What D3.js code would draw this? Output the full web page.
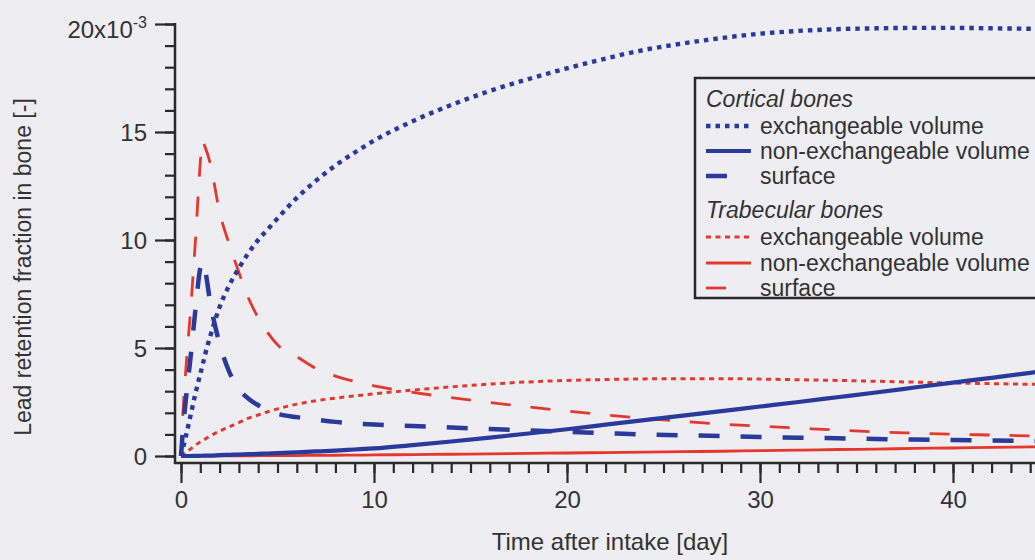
<!DOCTYPE html>
<html>
<head>
<meta charset="utf-8">
<script src="https://cdn.jsdelivr.net/npm/d3@7/dist/d3.min.js"></script>
<style>
  html, body { margin: 0; padding: 0; background: #ededf2; }
  svg { display: block; font-family: "Liberation Sans", Arial, sans-serif; }
</style>
</head>
<body>
<svg id="chart" width="1035" height="560"></svg>
<script>
// Time after intake, days
const days = [0, 0.1, 0.25, 0.5, 0.75, 1, 1.1, 1.25, 1.5, 2, 2.5, 3, 3.5, 4, 4.5, 5, 6, 7, 8, 9, 10,
  12, 14, 16, 18, 20, 22, 24, 26, 28, 30, 32, 34, 36, 38, 40, 42, 44, 46, 48, 50];

// Retention fractions (x10^-3)
const cortExch = [0, 0.35, 0.9, 1.9, 2.9, 3.8, 4.15, 4.7, 5.5, 6.9, 7.9, 8.7, 9.4, 10.0, 10.5, 11.0, 11.95, 12.75, 13.45, 14.05, 14.6,
  15.5, 16.25, 16.9, 17.45, 17.95, 18.4, 18.8, 19.1, 19.35, 19.55, 19.68, 19.76, 19.8, 19.82, 19.82, 19.8, 19.78, 19.76, 19.74, 19.72];
const cortNonExch = [0, 0, 0, 0, 0.005, 0.01, 0.012, 0.015, 0.02, 0.04, 0.055, 0.07, 0.085, 0.1, 0.115, 0.13, 0.17, 0.21, 0.25, 0.3, 0.35,
  0.5, 0.67, 0.85, 1.04, 1.24, 1.45, 1.66, 1.87, 2.08, 2.29, 2.5, 2.72, 2.94, 3.17, 3.4, 3.62, 3.85, 4.08, 4.3, 4.5];
const cortSurf = [0, 1.2, 2.6, 4.6, 6.8, 8.7, 9.0, 8.6, 7.2, 5.2, 3.9, 3.1, 2.65, 2.35, 2.1, 1.95, 1.8, 1.68, 1.58, 1.51, 1.46,
  1.39, 1.32, 1.25, 1.18, 1.12, 1.06, 1.0, 0.96, 0.92, 0.88, 0.85, 0.82, 0.79, 0.76, 0.74, 0.72, 0.7, 0.68, 0.66, 0.64];
const trabExch = [0, 0.07, 0.17, 0.33, 0.5, 0.65, 0.7, 0.78, 0.92, 1.15, 1.35, 1.55, 1.75, 1.9, 2.05, 2.18, 2.4, 2.56, 2.68, 2.78, 2.88,
  3.05, 3.2, 3.33, 3.43, 3.5, 3.54, 3.57, 3.58, 3.58, 3.56, 3.53, 3.5, 3.46, 3.42, 3.38, 3.35, 3.32, 3.29, 3.26, 3.23];
const trabNonExch = [0, 0, 0, 0, 0, 0.002, 0.002, 0.003, 0.004, 0.005, 0.007, 0.009, 0.011, 0.013, 0.015, 0.017, 0.022, 0.028, 0.034, 0.04, 0.05,
  0.065, 0.08, 0.1, 0.12, 0.14, 0.16, 0.18, 0.2, 0.22, 0.25, 0.27, 0.3, 0.32, 0.35, 0.37, 0.4, 0.42, 0.44, 0.47, 0.49];
const trabSurf = [0, 2.0, 4.0, 6.8, 10.0, 13.6, 14.6, 14.3, 13.6, 11.3, 9.8, 8.5, 7.3, 6.4, 5.7, 5.15, 4.6, 4.05, 3.7, 3.45, 3.25,
  2.95, 2.7, 2.48, 2.27, 2.08, 1.9, 1.74, 1.6, 1.48, 1.38, 1.29, 1.2, 1.12, 1.06, 1.01, 0.97, 0.93, 0.9, 0.87, 0.84];

const xMajorTicks = [0, 10, 20, 30, 40];
const yMajorTicks = [0, 5, 10, 15, 20];
const yTickLabels = ["0", "5", "10", "15", "20x10"];
const yExponent = "-3";

const xTitle = "Time after intake [day]";
const yTitle = "Lead retention fraction in bone [-]";
const groupTitles = ["Cortical bones", "Trabecular bones"];
const seriesLabels = ["exchangeable volume", "non-exchangeable volume", "surface"];

const BLUE = "#2a3a9a";
const RED = "#e5382c";
const INK = "#2a2a2a";
const TEXT = "#333333";

const svg = d3.select("#chart");

const x = d3.scaleLinear().domain([0, 50]).range([181, 1146]);
const y = d3.scaleLinear().domain([0, 20]).range([456, 24]);

// ---- axes (offset from the data origin) ----
const xAxisY = 463, yAxisX = 175;

const xMajor = d3.axisBottom(x).tickValues(xMajorTicks).tickSize(20).tickFormat(d3.format("d"));
const xMinor = d3.axisBottom(x).tickValues(d3.range(0, 51, 1)).tickSize(10).tickFormat("");

const gxMinor = svg.append("g").attr("transform", `translate(0,${xAxisY})`).call(xMinor);
const gx = svg.append("g").attr("transform", `translate(0,${xAxisY})`).call(xMajor);
[gx, gxMinor].forEach(g => {
  g.select(".domain").remove();
  g.selectAll(".tick line").attr("stroke", INK).attr("stroke-width", 2.2);
});
gx.selectAll(".tick text")
  .attr("y", 28).attr("dy", "0.71em")
  .attr("fill", TEXT).style("font-size", "24px");
svg.append("line")
  .attr("x1", yAxisX - 1).attr("x2", 1040)
  .attr("y1", xAxisY).attr("y2", xAxisY)
  .attr("stroke", INK).attr("stroke-width", 2.5);

const yMajor = d3.axisLeft(y).tickValues(yMajorTicks).tickSize(20)
  .tickFormat((d, i) => yTickLabels[i]);
const yMinor = d3.axisLeft(y).tickValues(d3.range(0, 21, 1)).tickSize(10).tickFormat("");

const gyMinor = svg.append("g").attr("transform", `translate(${yAxisX},0)`).call(yMinor);
const gy = svg.append("g").attr("transform", `translate(${yAxisX},0)`).call(yMajor);
[gy, gyMinor].forEach(g => {
  g.select(".domain").remove();
  g.selectAll(".tick line").attr("stroke", INK).attr("stroke-width", 2.2);
});
gy.selectAll(".tick text")
  .attr("x", -28).attr("dy", "0.35em")
  .attr("fill", TEXT).style("font-size", "24px");
// exponent on the top label
gy.selectAll(".tick text").filter(d => d === 20)
  .attr("dy", "0.55em")
  .append("tspan")
  .attr("dy", "-0.6em")
  .style("font-size", "16px")
  .text(yExponent);
svg.append("line")
  .attr("x1", yAxisX).attr("x2", yAxisX)
  .attr("y1", y(20) - 1).attr("y2", xAxisY + 1)
  .attr("stroke", INK).attr("stroke-width", 2.5);

// axis titles
svg.append("text")
  .attr("x", 610).attr("y", 550)
  .attr("text-anchor", "middle")
  .attr("fill", TEXT).style("font-size", "24px")
  .text(xTitle);
svg.append("text")
  .attr("transform", "translate(31,267) rotate(-90)")
  .attr("text-anchor", "middle")
  .attr("fill", TEXT).style("font-size", "23px")
  .text(yTitle);

// ---- series ----
const series = [
  { group: 0, label: 0, values: cortExch,    color: BLUE, width: 4.4, dash: "4.5,5",  sample: 45 },
  { group: 0, label: 1, values: cortNonExch, color: BLUE, width: 4.2, dash: null,     sample: 45 },
  { group: 0, label: 2, values: cortSurf,    color: BLUE, width: 4.5, dash: "21,21",  sample: 25 },
  { group: 1, label: 0, values: trabExch,    color: RED,  width: 3,   dash: "5,4.5",  sample: 45 },
  { group: 1, label: 1, values: trabNonExch, color: RED,  width: 2.8, dash: null,     sample: 45 },
  { group: 1, label: 2, values: trabSurf,    color: RED,  width: 2.8, dash: "20,20",  sample: 25 }
];

const line = d3.line()
  .x((d, i) => x(days[i]))
  .y(d => y(d))
  .curve(d3.curveMonotoneX);

const plot = svg.append("g");
// draw red first so the heavier blue lines sit on top where they overlap
[3, 4, 5, 0, 1, 2].forEach(k => {
  const s = series[k];
  plot.append("path")
    .datum(s.values)
    .attr("d", line)
    .attr("fill", "none")
    .attr("stroke", s.color)
    .attr("stroke-width", s.width)
    .attr("stroke-dasharray", s.dash)
    .attr("stroke-linejoin", "round");
});

// ---- legend ----
const legend = svg.append("g");
legend.append("rect")
  .attr("x", 695).attr("y", 78)
  .attr("width", 360).attr("height", 220)
  .attr("fill", "#ededf2")
  .attr("stroke", INK).attr("stroke-width", 2.5);

const groupBaselines = [107, 218];
const rowCenters = [[126, 151, 176], [237, 263, 288]];

groupTitles.forEach((t, g) => {
  legend.append("text")
    .attr("x", 706).attr("y", groupBaselines[g])
    .attr("fill", TEXT).style("font-size", "23px").style("font-style", "italic")
    .text(t);
});

series.forEach(s => {
  const cy = rowCenters[s.group][s.label];
  legend.append("line")
    .attr("x1", 706).attr("x2", 706 + s.sample)
    .attr("y1", cy).attr("y2", cy)
    .attr("stroke", s.color)
    .attr("stroke-width", s.width)
    .attr("stroke-dasharray", s.dash);
  legend.append("text")
    .attr("x", 760).attr("y", cy).attr("dy", "0.35em")
    .attr("fill", TEXT).style("font-size", "23px")
    .text(seriesLabels[s.label]);
});
</script>
</body>
</html>
